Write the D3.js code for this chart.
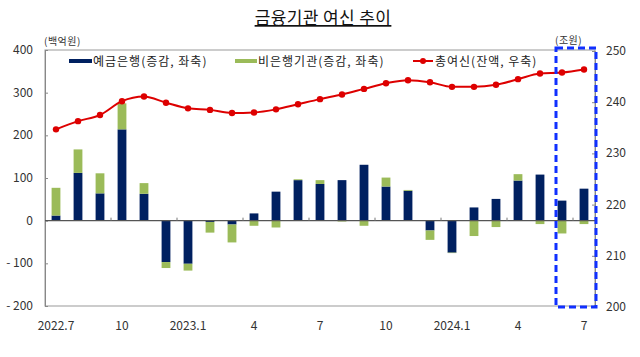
<!DOCTYPE html>
<html><head><meta charset="utf-8">
<script src="https://cdn.jsdelivr.net/npm/d3@7"></script>
<style>body{margin:0;background:#fff}svg{display:block}</style>
</head><body>
<svg id="c" width="640" height="357"></svg>
<script>
const months = ["2022.7","8","9","10","11","12","2023.1","2","3","4","5","6","7","8","9","10","11","12","2024.1","2","3","4","5","6","7"];
const tickLabels = ["2022.7","10","2023.1","4","7","10","2024.1","4","7"];
const bankChange = [12,112,64,214,63,-97,-101,-3,-9,17,68,95,86,95,131,80,70,-23,-75,31,51,94,108,47,75];
const nonBankChange = [65,55,47,61,25,-14,-16,-25,-42,-12,-16,2,9,-2,-12,21,2,-22,-1,-36,-15,15,-8,-30,-8];
const totalLoans = [234.7,236.3,237.5,240.2,241.1,239.9,238.8,238.5,237.9,238.0,238.6,239.6,240.6,241.5,242.6,243.7,244.3,243.9,243.0,243.0,243.4,244.5,245.6,245.8,246.4];
const leftTicks = [400,300,200,100,0,-100,-200];
const rightTicks = [250,240,230,220,210,200];
const seriesNames = ["예금은행(증감, 좌축)","비은행기관(증감, 좌축)","총여신(잔액, 우축)"];

const svg = d3.select("#c");
const L = 45, R = 595, T = 50, B = 306;
const font = "'Noto Sans CJK KR','Noto Sans',sans-serif";
const navy = "#002060", green = "#9bbb59", red = "#dd0000";

const x = d3.scaleBand().domain(d3.range(months.length)).range([L, R]).paddingInner(0.6).paddingOuter(0.3);
const yL = d3.scaleLinear().domain([-200, 400]).range([B, T]);
const yR = d3.scaleLinear().domain([200, 250]).range([B + 1, T + 1]);

// title
svg.append("text").attr("x", 323).attr("y", 24).attr("text-anchor", "middle")
  .attr("font-family", font).attr("font-size", 17).attr("letter-spacing", 0.4).attr("fill", "#111")
  .attr("text-decoration", "underline").text("금융기관 여신 추이");

// frame
svg.append("rect").attr("x", L).attr("y", T).attr("width", R - L).attr("height", B - T)
  .attr("fill", "none").attr("stroke", "#999").attr("stroke-width", 1);

// left axis
const gl = svg.append("g").attr("transform", `translate(${L},0)`)
  .call(d3.axisRight(yL).tickValues(leftTicks).tickSize(3).tickFormat(""));
gl.select(".domain").attr("stroke", "#888");
gl.selectAll(".tick line").attr("stroke", "#888");
svg.append("g").selectAll("text").data(leftTicks).join("text")
  .attr("x", 33).attr("y", d => yL(d) + 4).attr("text-anchor", "end")
  .attr("font-family", font).attr("font-size", 12).attr("fill", "#333")
  .text(d => d < 0 ? "- " + Math.abs(d) : d);

// right axis
const gr = svg.append("g").attr("transform", `translate(${R},0)`)
  .call(d3.axisLeft(yR).tickValues(rightTicks).tickSize(3).tickFormat(""));
gr.select(".domain").attr("stroke", "#888");
gr.selectAll(".tick line").attr("stroke", "#888");
svg.append("g").selectAll("text").data(rightTicks).join("text")
  .attr("x", 606).attr("y", d => yR(d) + 4).attr("text-anchor", "start")
  .attr("font-family", font).attr("font-size", 12).attr("fill", "#333").text(d => d);

// units
svg.append("text").attr("x", 44).attr("y", 45).attr("font-family", font).attr("font-size", 10).attr("letter-spacing", 0.5).attr("fill", "#333").text("(백억원)");
svg.append("text").attr("x", 555).attr("y", 44).attr("font-family", font).attr("font-size", 10).attr("letter-spacing", 0.5).attr("fill", "#333").text("(조원)");

// stacked bars
const data = months.map((m, i) => ({ i, bank: bankChange[i], nonbank: nonBankChange[i] }));
const stack = d3.stack().keys(["bank", "nonbank"]).offset(d3.stackOffsetDiverging)(data);
const colors = { bank: navy, nonbank: green };
svg.append("g").selectAll("g").data(stack).join("g").attr("fill", d => colors[d.key])
  .selectAll("rect").data(d => d).join("rect")
  .attr("x", d => x(d.data.i)).attr("width", x.bandwidth())
  .attr("y", d => yL(Math.max(d[0], d[1])))
  .attr("height", d => Math.abs(yL(d[0]) - yL(d[1])));

// zero line with ticks
svg.append("line").attr("x1", L).attr("x2", R).attr("y1", yL(0)).attr("y2", yL(0))
  .attr("stroke", "#555").attr("stroke-width", 1.2);
const step = x.step();
svg.append("g").selectAll("line").data(d3.range(3, months.length, 3)).join("line")
  .attr("x1", d => x(d) - (step - x.bandwidth()) / 2).attr("x2", d => x(d) - (step - x.bandwidth()) / 2)
  .attr("y1", yL(0)).attr("y2", yL(0) - 3).attr("stroke", "#777");

// x labels
svg.append("g").selectAll("text").data(tickLabels).join("text")
  .attr("x", (d, k) => x(k * 3) + x.bandwidth() / 2).attr("y", 330).attr("text-anchor", "middle")
  .attr("font-family", font).attr("font-size", 12).attr("fill", "#333").text(d => d);

// line
const line = d3.line().x((d, i) => x(i) + x.bandwidth() / 2).y(d => yR(d)).curve(d3.curveMonotoneX);
svg.append("path").datum(totalLoans).attr("d", line).attr("fill", "none").attr("stroke", red).attr("stroke-width", 2);
svg.append("g").selectAll("circle").data(totalLoans).join("circle")
  .attr("cx", (d, i) => x(i) + x.bandwidth() / 2).attr("cy", d => yR(d)).attr("r", 3.2).attr("fill", red);

// legend
const lg = svg.append("g").attr("font-family", font).attr("font-size", 12).attr("letter-spacing", 1).attr("fill", "#222");
lg.append("rect").attr("x", 69).attr("y", 59).attr("width", 23).attr("height", 4).attr("fill", navy);
lg.append("text").attr("x", 93).attr("y", 66).text(seriesNames[0]);
lg.append("rect").attr("x", 235).attr("y", 59).attr("width", 22).attr("height", 4).attr("fill", green);
lg.append("text").attr("x", 258).attr("y", 66).text(seriesNames[1]);
lg.append("line").attr("x1", 413).attr("x2", 433).attr("y1", 61).attr("y2", 61).attr("stroke", red).attr("stroke-width", 2);
lg.append("circle").attr("cx", 423).attr("cy", 61).attr("r", 3).attr("fill", red);
lg.append("text").attr("x", 435).attr("y", 66).text(seriesNames[2]);

// highlight box
svg.append("rect").attr("x", 556).attr("y", 48).attr("width", 40).attr("height", 259)
  .attr("fill", "none").attr("stroke", "#1030ff").attr("stroke-width", 3).attr("stroke-dasharray", "7,4");
</script>
</body></html>
